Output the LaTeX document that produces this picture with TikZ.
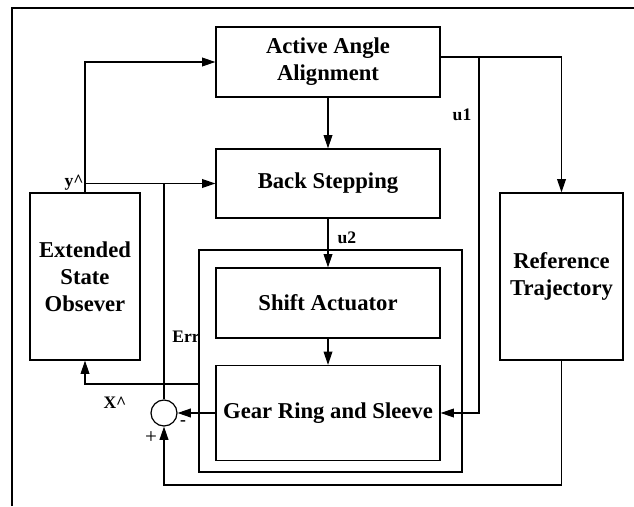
\documentclass[tikz,border=0pt]{standalone}
\usepackage{fontspec}
\setmainfont{Liberation Serif}
\usetikzlibrary{arrows.meta}
\begin{document}
\begin{tikzpicture}[x=0.02cm, y=-0.02cm,
    block/.style={rectangle, draw, line width=0.8pt, inner sep=0pt, align=center,
        font=\fontsize{12.9}{15.5}\selectfont\bfseries},
    sumnode/.style={circle, draw, line width=0.7pt, minimum size=0.52cm, inner sep=0pt},
    lbl/.style={font=\fontsize{10}{12}\selectfont\bfseries, inner sep=0pt},
    arrow/.style={-{Triangle[length=7.5pt, width=5pt]}, line width=0.6pt},
    wire/.style={line width=0.6pt}
]
    \useasboundingbox (0,0) rectangle (634,506);
    \draw[line width=1pt] (12,506) -- (12,8) -- (634,8);

    % Controller blocks
    \node[block, minimum width=4.48cm, minimum height=1.4cm] (aaa) at (328,62) {Active Angle\\Alignment};
    \node[block, minimum width=4.48cm, minimum height=1.38cm] (bs) at (328,183.5) {Back Stepping};

    % Plant
    \node[block, minimum width=5.26cm, minimum height=4.44cm] (plant) at (330.5,361) {};
    \node[block, minimum width=4.48cm, minimum height=1.4cm] (sa) at (328,303) {Shift Actuator};
    \node[block, minimum width=4.48cm, minimum height=1.9cm] (gr) at (328,413) {Gear Ring and Sleeve};

    % Observer and reference
    \node[block, minimum width=2.2cm, minimum height=3.34cm] (eso) at (85,276.5) {Extended\\State\\Obsever};
    \node[block, minimum width=2.46cm, minimum height=3.34cm] (ref) at (561.5,276.5) {Reference\\Trajectory};

    % Summing junction
    \node[sumnode] (sum) at (164,413) {};

    % Junction points
    \coordinate (split) at (479,57);
    \coordinate (xhat) at (199,384);
    \coordinate (fb) at (164,485);

    % Arrows
    \draw[arrow] (aaa) -- (bs);
    \draw[arrow] (bs) -- (sa);
    \draw[arrow] (sa) -- (gr);
    \draw[arrow] (aaa.east |- split) -| (ref);
    \draw[arrow] (split) |- (gr);
    \draw[arrow] (eso.north) |- (aaa);
    \draw[arrow] (eso.north |- bs) -- (bs);
    \draw[wire] (sum |- bs) -- (sum);
    \draw[arrow] (xhat) -| (eso);
    \draw[arrow] (gr) -- (sum);
    \draw[arrow] (ref.south) |- (fb) -- (sum);

    % Labels
    \node[lbl] (u1) at (462,115) {u1};
    \node[lbl] (u2) at (347,238) {u2};
    \node[lbl] (yh) at (74,183) {y\textasciicircum};
    \node[lbl] (xh) at (115,403) {X\textasciicircum};
    \node[lbl] (err) at (186,337) {Err};
    \node[lbl] (minus) at (183,423) {-};
    \node[font=\fontsize{12}{14}\selectfont, inner sep=0pt] (plus) at (151,438) {+};
\end{tikzpicture}
\end{document}
